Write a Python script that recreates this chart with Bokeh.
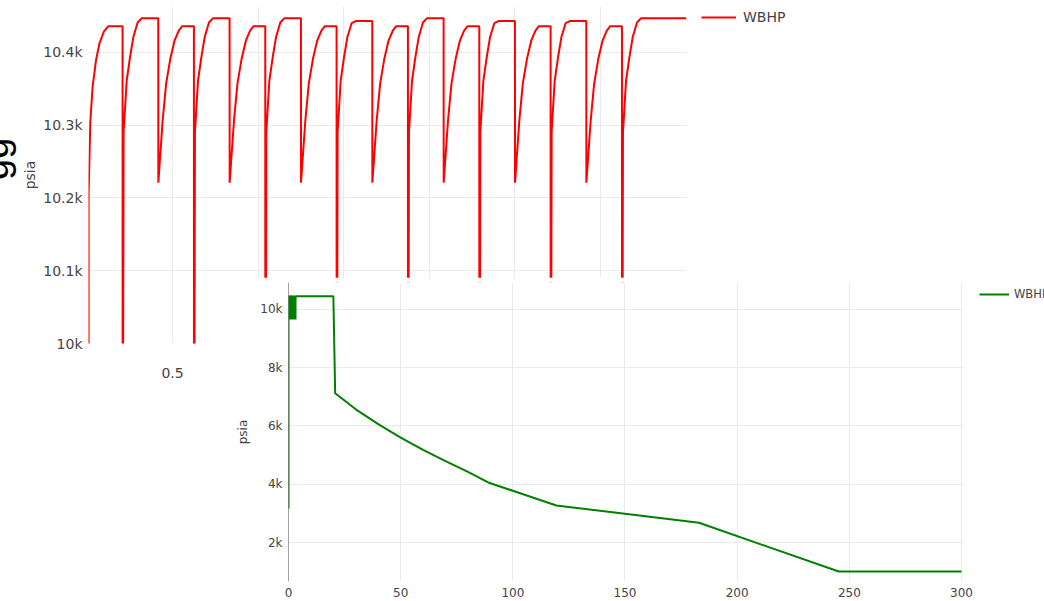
from bokeh.plotting import figure
from bokeh.models import (Range1d, FixedTicker, Legend, LegendItem, Span,
                          BoxAnnotation, Div)
from bokeh.layouts import column
from bokeh.embed import file_html
from bokeh.resources import INLINE

# ---- data ----
# time in days, well bottom-hole pressure (psia)
days = [
    0.007, 0.010, 0.020, 0.033, 0.053, 0.073, 0.098, 0.125,
    0.2083, 0.2088, 0.2143, 0.2323, 0.2523, 0.2713, 0.2963, 0.3203,
    0.4167, 0.4172, 0.4427, 0.4627, 0.4877, 0.5117, 0.5367, 0.5567,
    0.6250, 0.6255, 0.6310, 0.6490, 0.6690, 0.6880, 0.7130, 0.7370,
    0.8333, 0.8338, 0.8593, 0.8793, 0.9043, 0.9283, 0.9533, 0.9733,
    1.0417, 1.0422, 1.0477, 1.0657, 1.0857, 1.1047, 1.1297, 1.1537,
    1.2500, 1.2505, 1.2760, 1.2960, 1.3210, 1.3450, 1.3700, 1.3900,
    1.4583, 1.4588, 1.4643, 1.4823, 1.5023, 1.5213, 1.5463, 1.5703,
    1.6667, 1.6672, 1.6927, 1.7127, 1.7377, 1.7617, 1.7867, 1.8067,
    1.8750, 1.8755, 1.8810, 1.8990, 1.9190, 1.9380, 1.9630, 1.9870,
    2.0833, 2.0838, 2.1093, 2.1293, 2.1543, 2.1783, 2.2033, 2.2233,
    2.2917, 2.2922, 2.2977, 2.3157, 2.3357, 2.3547, 2.3797, 2.4037,
    2.5000, 2.5005, 2.5260, 2.5460, 2.5710, 2.5950, 2.6200, 2.6400,
    2.7083, 2.7088, 2.7143, 2.7323, 2.7523, 2.7713, 2.7963, 2.8203,
    2.9167, 2.9172, 2.9427, 2.9627, 2.9877, 3.0117, 3.0367, 3.0567,
    3.1250, 3.1255, 3.1310, 3.1490, 3.1690, 3.1880, 3.2130, 3.2370,
    20.0, 20.8, 30.0, 40.0, 50.0, 60.0, 70.0, 80.0, 89.0,
    119.4, 150.0, 183.0, 245.3, 300.0,
]
wbhp = [
    3170, 10208, 10305, 10352, 10389, 10412, 10428, 10436,
    10436, 9650, 10290, 10361, 10394, 10421, 10441, 10447,
    10447, 10221, 10307, 10357, 10392, 10416, 10430, 10436,
    10436, 9650, 10290, 10361, 10394, 10421, 10441, 10447,
    10447, 10221, 10307, 10357, 10392, 10416, 10430, 10436,
    10436, 9650, 10290, 10361, 10394, 10421, 10441, 10447,
    10447, 10221, 10307, 10357, 10392, 10416, 10430, 10436,
    10436, 9650, 10290, 10361, 10394, 10421, 10440, 10443,
    10443, 10221, 10307, 10357, 10392, 10416, 10430, 10436,
    10436, 9650, 10290, 10361, 10394, 10421, 10441, 10447,
    10447, 10221, 10307, 10357, 10392, 10416, 10430, 10436,
    10436, 9650, 10290, 10361, 10394, 10421, 10440, 10443,
    10443, 10221, 10307, 10357, 10392, 10416, 10430, 10436,
    10436, 9650, 10290, 10361, 10394, 10421, 10440, 10443,
    10443, 10221, 10307, 10357, 10392, 10416, 10430, 10436,
    10436, 9650, 10290, 10361, 10394, 10421, 10441, 10447,
    10447, 7120, 6570, 6060, 5600, 5180, 4790, 4420, 4060,
    3270, 2984, 2676, 1005, 1005,
]

series_name = "WBHP"
y_title = "psia"
side_text = "gg"

zoom_x_ticks = [0.5, 1.0, 1.5, 2.0, 2.5, 3.0]
zoom_x_labels = ["0.5", "1", "1.5", "2", "2.5", "3"]
zoom_y_ticks = [10000, 10100, 10200, 10300, 10400]
zoom_y_labels = ["10k", "10.1k", "10.2k", "10.3k", "10.4k"]
zoom_x_end = 3.5

full_x_ticks = [0, 50, 100, 150, 200, 250, 300]
full_x_labels = ["0", "50", "100", "150", "200", "250", "300"]
full_y_ticks = [2000, 4000, 6000, 8000, 10000]
full_y_labels = ["2k", "4k", "6k", "8k", "10k"]
full_x_end = 300

FONT = "DejaVu Sans"
TXT = "#444444"
GRID = "#ebebeb"


def style_axes(p, size, x_standoff, y_standoff, title_standoff):
    for ax in (p.xaxis[0], p.yaxis[0]):
        ax.axis_line_color = None
        ax.major_tick_line_color = None
        ax.minor_tick_line_color = None
        ax.major_tick_out = 0
        ax.major_tick_in = 0
        ax.major_label_text_font = FONT
        ax.major_label_text_font_size = size
        ax.major_label_text_color = TXT
    p.xaxis[0].major_label_standoff = x_standoff
    p.yaxis[0].major_label_standoff = y_standoff
    p.yaxis[0].axis_label = y_title
    p.yaxis[0].axis_label_text_font = FONT
    p.yaxis[0].axis_label_text_font_size = size
    p.yaxis[0].axis_label_text_font_style = "normal"
    p.yaxis[0].axis_label_text_color = TXT
    p.yaxis[0].axis_label_standoff = title_standoff
    p.xgrid.grid_line_color = GRID
    p.ygrid.grid_line_color = GRID
    p.outline_line_color = None


# ---- stray rotated slide text at the far left ----
gg = Div(text=side_text, width=50, height=50, margin=(130, 0, 0, -26),
         styles={"font-family": "Liberation Sans", "font-size": "38px",
                 "color": "black", "line-height": "normal",
                 "transform": "rotate(-90deg)", "white-space": "nowrap"})

# ---- upper (zoomed) chart ----
p1 = figure(width=1044, height=400, output_backend="svg", toolbar_location=None,
            x_range=Range1d(0.0093, 5.593), y_range=Range1d(10000, 10463),
            min_border_left=88, min_border_right=0, min_border_top=6,
            min_border_bottom=57, margin=(-180, 0, 0, 0))
p1.background_fill_color = "white"
p1.border_fill_alpha = 0
r1 = p1.line(days, wbhp, line_color="#ff0000", line_width=2)
p1.xaxis[0].ticker = FixedTicker(ticks=zoom_x_ticks)
p1.xaxis[0].major_label_overrides = dict(zip(zoom_x_ticks, zoom_x_labels))
p1.yaxis[0].ticker = FixedTicker(ticks=zoom_y_ticks)
p1.yaxis[0].major_label_overrides = dict(zip(zoom_y_ticks, zoom_y_labels))
style_axes(p1, "14px", 24, 6, 2)
p1.add_layout(BoxAnnotation(left=zoom_x_end, fill_color="white", fill_alpha=1,
                            line_color=None))
leg1 = Legend(items=[LegendItem(label=series_name, renderers=[r1])],
              location=(613, 316), padding=0, margin=0, spacing=0,
              glyph_width=35, glyph_height=20, label_standoff=7,
              label_text_font=FONT, label_text_font_size="14px",
              label_text_color=TXT, border_line_color=None,
              background_fill_alpha=0)
p1.add_layout(leg1)

# ---- lower (full period) chart ----
p2 = figure(width=844, height=324, output_backend="svg", toolbar_location=None,
            x_range=Range1d(0, 337), y_range=Range1d(662, 10920),
            min_border_left=88, min_border_right=0, min_border_top=5,
            min_border_bottom=20, margin=(-123, 0, 0, 200))
p2.background_fill_color = "white"
p2.border_fill_color = "white"
r2 = p2.line(days, wbhp, line_color="#008000", line_width=2)
p2.xaxis[0].ticker = FixedTicker(ticks=full_x_ticks)
p2.xaxis[0].major_label_overrides = dict(zip(full_x_ticks, full_x_labels))
p2.yaxis[0].ticker = FixedTicker(ticks=full_y_ticks)
p2.yaxis[0].major_label_overrides = dict(zip(full_y_ticks, full_y_labels))
style_axes(p2, "12px", 6, 6, 7)
p2.add_layout(Span(location=0, dimension="height", line_color="#444444",
                   line_width=1))
p2.add_layout(BoxAnnotation(left=full_x_end + 1, fill_color="white",
                            fill_alpha=1, line_color=None))
leg2 = Legend(items=[LegendItem(label=series_name, renderers=[r2])],
              location=(691, 277), padding=0, margin=0, spacing=0,
              glyph_width=30, glyph_height=20, label_standoff=5,
              label_text_font=FONT, label_text_font_size="11.5px",
              label_text_color=TXT, border_line_color=None,
              background_fill_alpha=0)
p2.add_layout(leg2)

layout = column(gg, p1, p2, spacing=0)

open("out.html", "w").write(file_html(layout, INLINE))
